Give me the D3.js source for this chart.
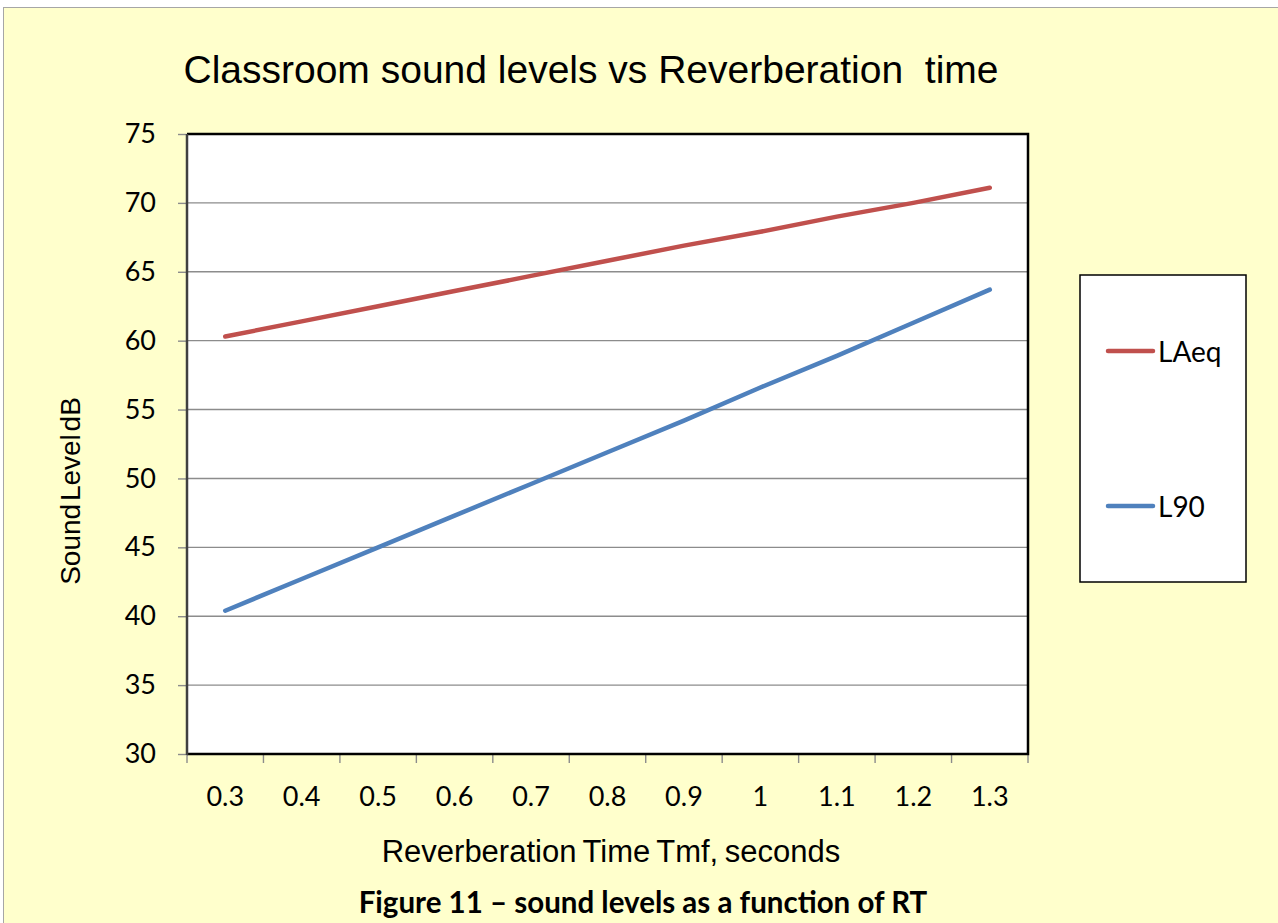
<!DOCTYPE html>
<html>
<head>
<meta charset="utf-8">
<script src="https://cdn.jsdelivr.net/npm/d3@7"></script>
<style>
  body { margin: 0; background: #fff; }
  svg text { white-space: pre; }
</style>
</head>
<body>
<div id="chart"></div>
<script>
var rtValues = ["0.3", "0.4", "0.5", "0.6", "0.7", "0.8", "0.9", "1", "1.1", "1.2", "1.3"];
var laeqValues = [60.3, 61.4, 62.5, 63.6, 64.7, 65.8, 66.9, 67.9, 69.0, 70.0, 71.1];
var l90Values = [40.4, 42.7, 45.0, 47.3, 49.6, 51.9, 54.2, 56.6, 58.9, 61.3, 63.7];
var yTicks = [30, 35, 40, 45, 50, 55, 60, 65, 70, 75];
var seriesNames = ["LAeq", "L90"];

var w = 1278, h = 923;
var margin = { top: 134, bottom: 169, left: 187, right: 250 };
var plotW = 1028 - margin.left;
var plotH = 754 - margin.top;
var labelFont = "Lato, 'Open Sans', sans-serif";

var svg = d3.select("#chart").append("svg")
    .attr("width", w)
    .attr("height", h);

// yellow page
svg.append("rect")
    .attr("x", 0).attr("y", 0)
    .attr("width", w).attr("height", h)
    .attr("fill", "#fff");
svg.append("rect")
    .attr("x", 3.5).attr("y", 7.5)
    .attr("width", w).attr("height", h)
    .attr("fill", "#FFFFCC")
    .attr("stroke", "#a6a6a6")
    .attr("stroke-width", 1);

var x = d3.scaleBand()
    .domain(rtValues)
    .range([0, plotW])
    .padding(0);
var y = d3.scaleLinear()
    .domain([30, 75])
    .range([plotH, 0]);

var chart = svg.append("g")
    .attr("transform", "translate(" + margin.left + "," + margin.top + ")");

chart.append("rect")
    .attr("width", plotW)
    .attr("height", plotH)
    .attr("fill", "#fff");

// gridlines
chart.selectAll(".grid")
    .data(yTicks.slice(1, -1))
    .enter()
    .append("line")
    .attr("class", "grid")
    .attr("x1", 0).attr("x2", plotW)
    .attr("y1", function(d){ return y(d); })
    .attr("y2", function(d){ return y(d); })
    .attr("stroke", "#8c8c8c")
    .attr("stroke-width", 1.4);

// y axis
var yAxis = d3.axisLeft(y)
    .tickValues(yTicks)
    .tickSize(9)
    .tickPadding(22);
var yg = chart.append("g").call(yAxis);
yg.select(".domain").remove();
yg.selectAll(".tick line").attr("stroke", "#8c8c8c").attr("stroke-width", 1.4);
yg.selectAll("text")
    .attr("font-family", labelFont)
    .attr("font-size", 27)
    .attr("fill", "#000");

// x axis: labels centred on categories, ticks on category boundaries
var xAxis = d3.axisBottom(x).tickSize(0).tickPadding(33);
var xg = chart.append("g")
    .attr("transform", "translate(0," + plotH + ")")
    .call(xAxis);
xg.select(".domain").remove();
xg.selectAll("text")
    .attr("font-family", labelFont)
    .attr("font-size", 27)
    .attr("fill", "#000");
chart.selectAll(".xtick")
    .data(d3.range(rtValues.length + 1))
    .enter()
    .append("line")
    .attr("class", "xtick")
    .attr("x1", function(i){ return i * x.step(); })
    .attr("x2", function(i){ return i * x.step(); })
    .attr("y1", plotH)
    .attr("y2", plotH + 9)
    .attr("stroke", "#8c8c8c")
    .attr("stroke-width", 1.4);

// plot frame
chart.append("path")
    .attr("d", "M0,0H" + plotW + "V" + plotH + "H0")
    .attr("fill", "none")
    .attr("stroke", "#000")
    .attr("stroke-width", 2.5);
chart.append("line")
    .attr("x1", 0).attr("x2", 0)
    .attr("y1", 0).attr("y2", plotH + 1)
    .attr("stroke", "#404040")
    .attr("stroke-width", 2.5);

var line = d3.line()
    .x(function(d, i){ return x(rtValues[i]) + x.bandwidth() / 2; })
    .y(function(d){ return y(d); });

var colors = ["#C0504D", "#4F81BD"];
var data = [laeqValues, l90Values];

chart.selectAll(".series")
    .data(data)
    .enter()
    .append("path")
    .attr("class", "series")
    .attr("d", function(d){ return line(d); })
    .attr("fill", "none")
    .attr("stroke", function(d, i){ return colors[i]; })
    .attr("stroke-width", 4.5)
    .attr("stroke-linecap", "round")
    .attr("stroke-linejoin", "round");

// legend
var legend = svg.append("g").attr("transform", "translate(1080,275)");
legend.append("rect")
    .attr("width", 166)
    .attr("height", 307)
    .attr("fill", "#fff")
    .attr("stroke", "#000")
    .attr("stroke-width", 1.5);
var items = legend.selectAll(".item")
    .data(seriesNames)
    .enter()
    .append("g")
    .attr("class", "item")
    .attr("transform", function(d, i){ return "translate(0," + (76 + i * 155) + ")"; });
items.append("line")
    .attr("x1", 28).attr("x2", 73)
    .attr("stroke", function(d, i){ return colors[i]; })
    .attr("stroke-width", 4.5)
    .attr("stroke-linecap", "round");
items.append("text")
    .attr("x", 78)
    .attr("y", 11)
    .attr("font-family", labelFont)
    .attr("font-size", 28)
    .text(function(d){ return d; });

// titles
svg.append("text")
    .attr("x", 591)
    .attr("y", 83)
    .attr("text-anchor", "middle")
    .attr("font-family", "'Liberation Sans', Arial, sans-serif")
    .attr("font-size", 39)
    .text("Classroom sound levels vs Reverberation  time");

svg.append("text")
    .attr("x", 611)
    .attr("y", 862)
    .attr("text-anchor", "middle")
    .attr("font-family", "'Liberation Sans', Arial, sans-serif")
    .attr("font-size", 31)
    .attr("word-spacing", -2)
    .text("Reverberation Time Tmf, seconds");

svg.append("text")
    .attr("transform", "translate(80,491) rotate(-90)")
    .attr("text-anchor", "middle")
    .attr("font-family", "'Liberation Sans', Arial, sans-serif")
    .attr("font-size", 28)
    .attr("word-spacing", -5)
    .text("Sound Level dB");

svg.append("text")
    .attr("x", 643)
    .attr("y", 913)
    .attr("text-anchor", "middle")
    .attr("font-family", labelFont)
    .attr("font-weight", "bold")
    .attr("font-size", 29.5)
    .text("Figure 11 \u2013 sound levels as a function of RT");
</script>
</body>
</html>
